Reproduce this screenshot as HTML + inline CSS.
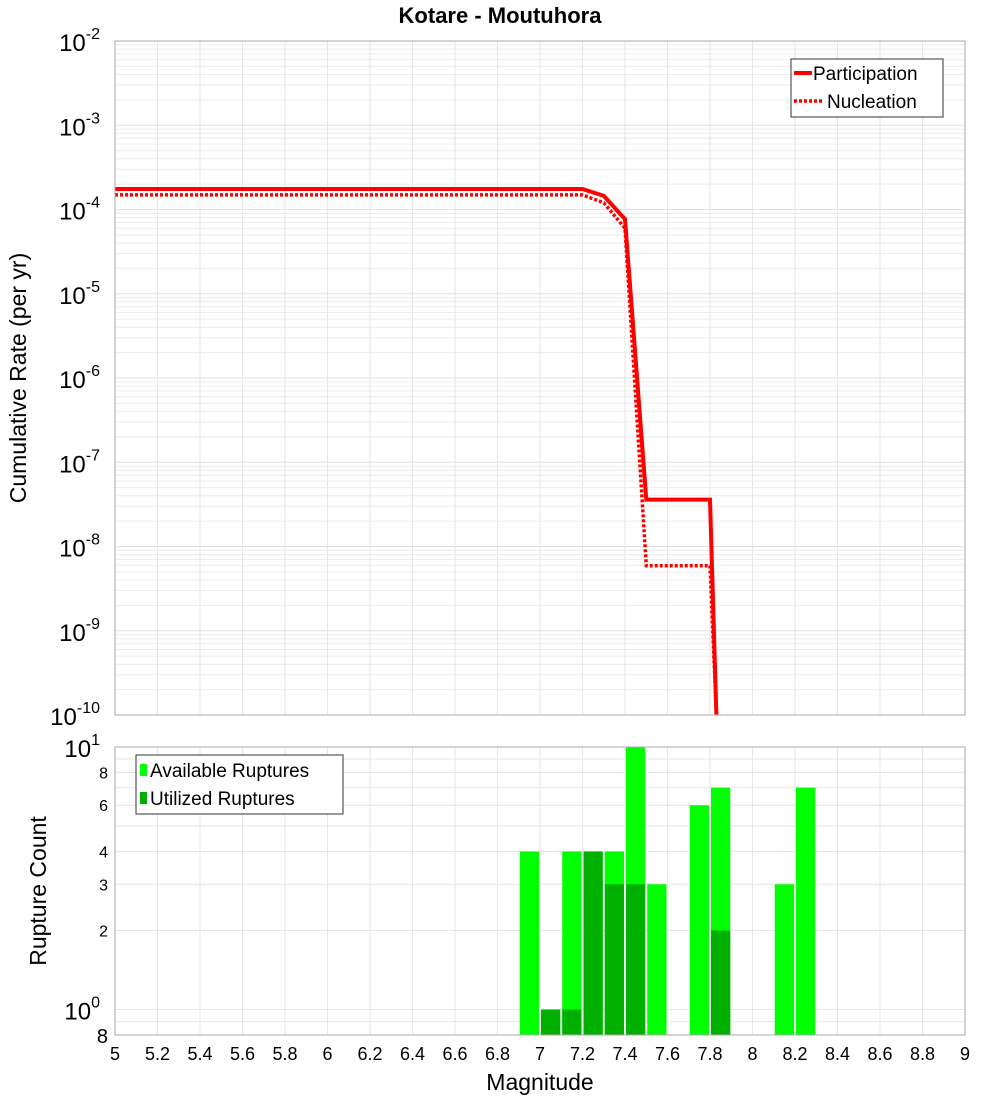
<!DOCTYPE html>
<html><head><meta charset="utf-8"><style>
body{margin:0;background:#fff;}
svg text{font-family:"Liberation Sans","DejaVu Sans",sans-serif;}
</style></head><body>
<svg id="c" width="1000" height="1100" xmlns="http://www.w3.org/2000/svg">
<text x="500" y="23" text-anchor="middle" font-size="22" font-weight="bold">Kotare - Moutuhora</text>
<g id="top"></g>
<g id="bot"></g>
<text transform="translate(26,378) rotate(-90)" text-anchor="middle" font-size="23">Cumulative Rate (per yr)</text>
<text transform="translate(46,891) rotate(-90)" text-anchor="middle" font-size="23">Rupture Count</text>
<text x="540" y="1090" text-anchor="middle" font-size="23">Magnitude</text>
</svg>
<script>
const partMags=[5,7.2,7.3,7.4,7.5,7.8,7.83];
const partRates=[1.75e-4,1.75e-4,1.45e-4,7.7e-5,3.6e-8,3.6e-8,1e-10];
const nuclMags=[5,7.2,7.3,7.4,7.5,7.8,7.83];
const nuclRates=[1.49e-4,1.49e-4,1.2e-4,6e-5,5.9e-9,5.9e-9,1e-10];
const binMags=[6.95,7.05,7.15,7.25,7.35,7.45,7.55,7.75,7.85,8.15,8.25];
const availCounts=[4,1,4,4,4,10,3,6,7,3,7];
const utilCounts=[0,1,1,4,3,3,0,0,2,0,0];
const xTicks=[5,5.2,5.4,5.6,5.8,6,6.2,6.4,6.6,6.8,7,7.2,7.4,7.6,7.8,8,8.2,8.4,8.6,8.8,9];
const yExps=[-2,-3,-4,-5,-6,-7,-8,-9,-10];
const NS="http://www.w3.org/2000/svg";
const X0=115,X1=965;
const sx=m=>X0+(m-5)/4*(X1-X0);
const T0=41,T1=715;
const sy=v=>T0+(-2-Math.log10(v))/8*(T1-T0);
const B0=747,B1=1035,bmin=Math.log10(0.8);
const by=v=>B0+(1-Math.log10(v))/(1-bmin)*(B1-B0);
function el(p,t,a){const e=document.createElementNS(NS,t);for(const k in a)e.setAttribute(k,a[k]);p.appendChild(e);return e;}
const topG=document.getElementById('top'),botG=document.getElementById('bot');
for(let e=-10;e<-2;e++)for(let k=1;k<10;k++){const y=sy(k*Math.pow(10,e));
const g=el(topG,'line',{x1:X0,x2:X1,y1:y,y2:y,stroke:k==1?'#e0e0e0':'#ececec','stroke-width':1});

}
xTicks.forEach(m=>{const g=el(topG,'line',{x1:sx(m),x2:sx(m),y1:T0,y2:T1,stroke:'#e6e6e6'});


const g2=el(botG,'line',{x1:sx(m),x2:sx(m),y1:B0,y2:B1,stroke:'#e6e6e6'});

});
[0.9,1,2,3,4,5,6,7,8,9].forEach(v=>{const g=el(botG,'line',{x1:X0,x2:X1,y1:by(v),y2:by(v),stroke:'#e6e6e6'});

});
yExps.forEach(e=>{const y=sy(Math.pow(10,e));
const t=el(topG,'text',{x:100,y:y+10,'text-anchor':'end','font-size':24});


t.innerHTML='10<tspan dy="-12" font-size="16">'+e+'</tspan>';});
function path(ms,rs){return ms.map((m,i)=>(i?'L':'M')+sx(m).toFixed(1)+','+sy(rs[i]).toFixed(1)).join(' ');}
const pl=el(topG,'path',{d:path(partMags,partRates),fill:'none',stroke:'#ff0000','stroke-width':4});


const nl=el(topG,'path',{d:path(nuclMags,nuclRates),fill:'none',stroke:'#ff0000','stroke-width':3.5,'stroke-dasharray':'3,2'});


const tf=el(topG,'rect',{x:X0,y:T0,width:X1-X0,height:T1-T0,fill:'none',stroke:'#aaa'});


const lg=el(topG,'g',{});


el(lg,'rect',{x:791,y:59,width:152,height:58,fill:'#fff',stroke:'#333'});
el(lg,'line',{x1:794,x2:812,y1:73,y2:73,stroke:'#f00','stroke-width':4});
el(lg,'line',{x1:794,x2:822,y1:101,y2:101,stroke:'#f00','stroke-width':3.5,'stroke-dasharray':'3,2'});
const l1=el(lg,'text',{x:813,y:80,'font-size':19});l1.textContent='Participation';


const l2=el(lg,'text',{x:827,y:108,'font-size':19});l2.textContent='Nucleation';


const bw=(X1-X0)/40;
binMags.forEach((m,i)=>{const x=sx(m)-bw/2+1;
if(availCounts[i]>0){const r=el(botG,'rect',{x:x,y:by(availCounts[i]),width:bw-2,height:B1-by(availCounts[i]),fill:'#00ff00'});

}
if(utilCounts[i]>0){const r=el(botG,'rect',{x:x,y:by(utilCounts[i]),width:bw-2,height:B1-by(utilCounts[i]),fill:'#00b000'});

}});
const bf=el(botG,'rect',{x:X0,y:B0,width:X1-X0,height:B1-B0,fill:'none',stroke:'#aaa'});


[[10,'10','1',24],[1,'10','0',24]].forEach(a=>{const t=el(botG,'text',{x:100,y:by(a[0])+10,'text-anchor':'end','font-size':a[3]});


t.innerHTML=a[1]+'<tspan dy="-12" font-size="16">'+a[2]+'</tspan>';});
[[8,16],[6,16],[4,16],[3,16],[2,16]].forEach(a=>{const t=el(botG,'text',{x:108,y:by(a[0])+6,'text-anchor':'end','font-size':a[1]});t.textContent=a[0];

});
const t8=el(botG,'text',{x:108,y:1043,'text-anchor':'end','font-size':20});t8.textContent='8';


xTicks.forEach(m=>{const t=el(botG,'text',{x:sx(m),y:1060,'text-anchor':'middle','font-size':18});t.textContent=String(m);

});
const bl=el(botG,'g',{});


el(bl,'rect',{x:136,y:755,width:207,height:59,fill:'#fff',stroke:'#333'});
el(bl,'rect',{x:140,y:764,width:7,height:12,fill:'#00ff00'});
el(bl,'rect',{x:140,y:792,width:7,height:12,fill:'#00b000'});
const b1=el(bl,'text',{x:150,y:777,'font-size':19});b1.textContent='Available Ruptures';


const b2=el(bl,'text',{x:150,y:805,'font-size':19});b2.textContent='Utilized Ruptures';


</script>
</body></html>
